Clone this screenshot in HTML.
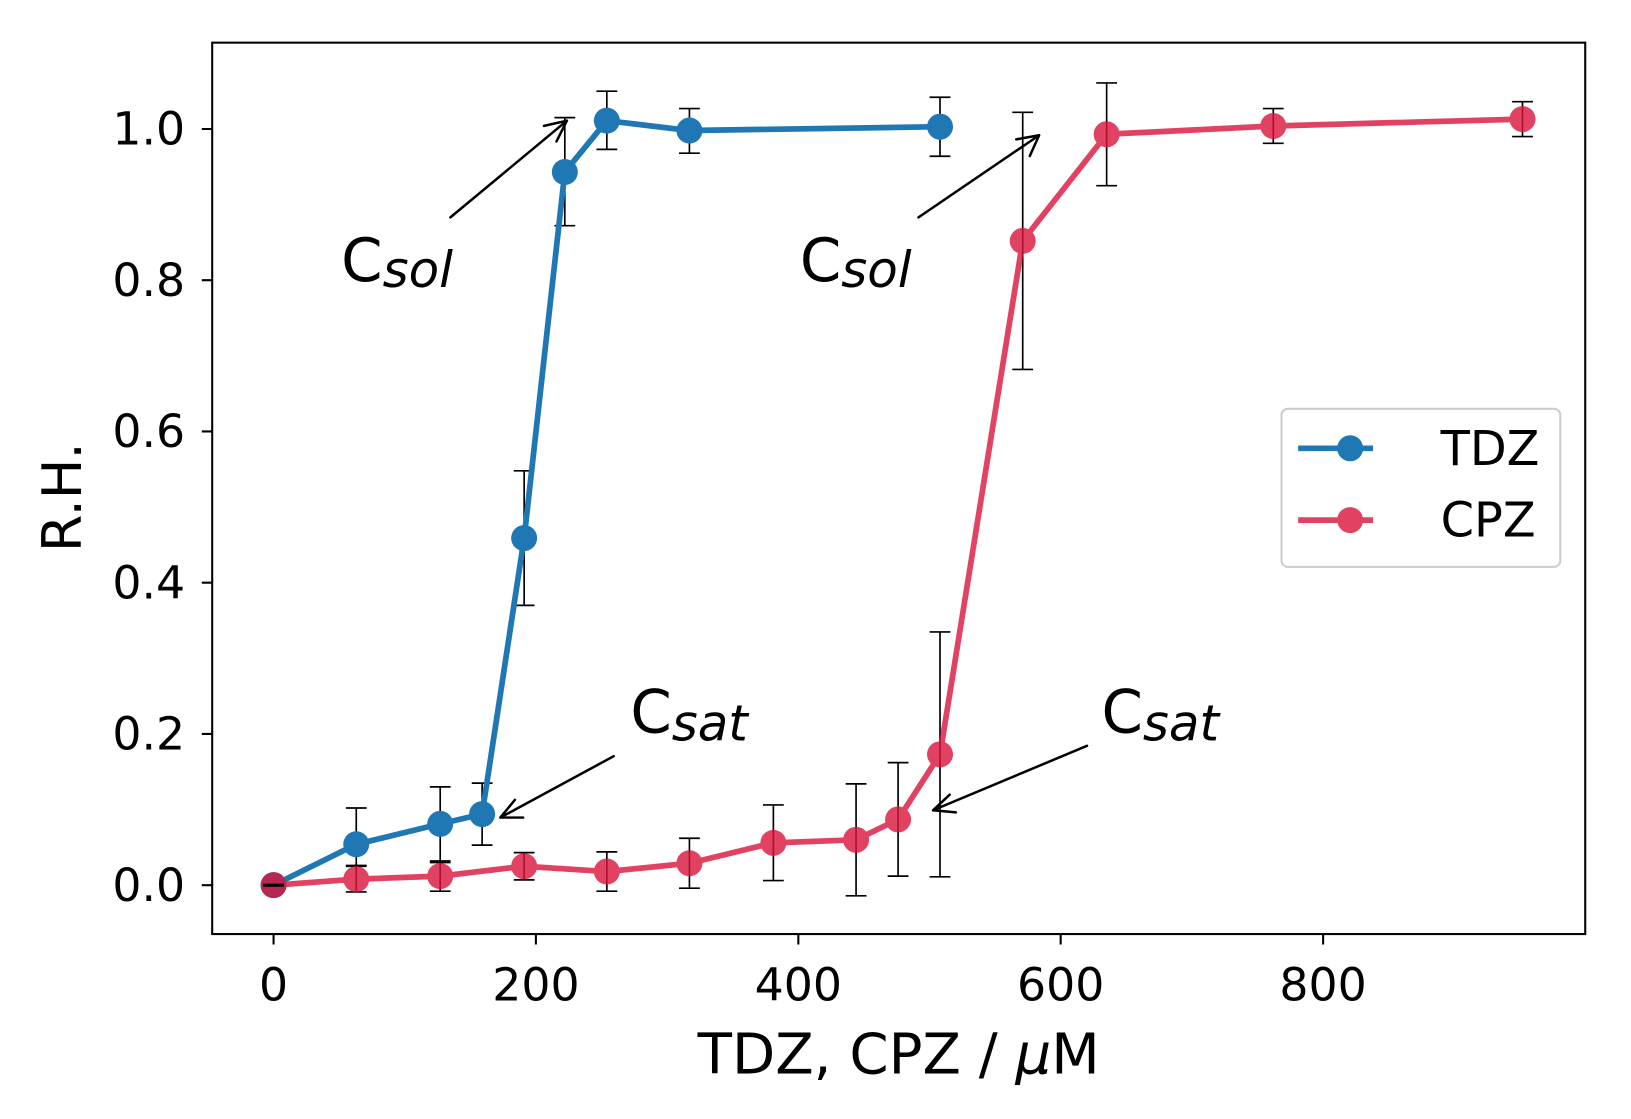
<!DOCTYPE html>
<html><head><meta charset="utf-8"><style>html,body{margin:0;padding:0;background:#fff}svg{display:block}</style></head>
<body>
<svg width="1631" height="1119" viewBox="0 0 1568 1075.8" preserveAspectRatio="none" xmlns="http://www.w3.org/2000/svg" font-family="'DejaVu Sans','Liberation Sans',sans-serif">
<rect x="0" y="0" width="1568" height="1076" fill="#fff"/>
<g stroke="#000" stroke-width="1.6" fill="none">
<path d="M342.5 776.8V832M332.5 776.8h20M332.5 832h20"/>
<path d="M423.2 756.5V829.2M413.2 756.5h20M413.2 829.2h20"/>
<path d="M463.5 752.9V812.5M453.5 752.9h20M453.5 812.5h20"/>
<path d="M503.9 452.6V582M493.9 452.6h20M493.9 582h20"/>
<path d="M543 113.1V217M533 113.1h20M533 217h20"/>
<path d="M583.4 87.7V143.6M573.4 87.7h20M573.4 143.6h20"/>
<path d="M662.8 104.4V147.3M652.8 104.4h20M652.8 147.3h20"/>
<path d="M903.7 93.5V150.2M893.7 93.5h20M893.7 150.2h20"/>
</g>
<polyline fill="none" stroke="#1f77b4" stroke-width="5.5" stroke-linejoin="round" points="263,851 342.5,811.7 423.2,792.1 463.5,782.7 503.9,517.3 543,165.4 583.4,116 662.8,125.5 903.7,121.8"/>
<g fill="#1f77b4">
<circle cx="263" cy="851" r="12.5"/><circle cx="342.5" cy="811.7" r="12.5"/><circle cx="423.2" cy="792.1" r="12.5"/><circle cx="463.5" cy="782.7" r="12.5"/><circle cx="503.9" cy="517.3" r="12.5"/><circle cx="543" cy="165.4" r="12.5"/><circle cx="583.4" cy="116" r="12.5"/><circle cx="662.8" cy="125.5" r="12.5"/><circle cx="903.7" cy="121.8" r="12.5"/>
</g>
<g stroke="#000" stroke-width="1.6" fill="none">
<path d="M342.5 832.8V857.5M332.5 832.8h20M332.5 857.5h20"/>
<path d="M423.2 827.7V856.8M413.2 827.7h20M413.2 856.8h20"/>
<path d="M503.9 819.7V845.9M493.9 819.7h20M493.9 845.9h20"/>
<path d="M583.4 819V856.8M573.4 819h20M573.4 856.8h20"/>
<path d="M662.8 805.9V853.9M652.8 805.9h20M652.8 853.9h20"/>
<path d="M743.5 773.9V846.6M733.5 773.9h20M733.5 846.6h20"/>
<path d="M823 753.6V861.2M813 753.6h20M813 861.2h20"/>
<path d="M863.4 733.2V842.3M853.4 733.2h20M853.4 842.3h20"/>
<path d="M903.7 607.5V843M893.7 607.5h20M893.7 843h20"/>
<path d="M983.2 108V355.2M973.2 108h20M973.2 355.2h20"/>
<path d="M1063.9 79.7V178.5M1053.9 79.7h20M1053.9 178.5h20"/>
<path d="M1224.1 104.4V137.8M1214.1 104.4h20M1214.1 137.8h20"/>
<path d="M1463.7 97.8V131.3M1453.7 97.8h20M1453.7 131.3h20"/>
</g>
<g opacity="0.8">
<polyline fill="none" stroke="#dc143c" stroke-width="5.5" stroke-linejoin="round" points="263,851 342.5,845.2 423.2,842.3 503.9,832.8 583.4,837.9 662.8,829.9 743.5,810.3 823,807.4 863.4,787.8 903.7,725.2 983.2,231.6 1063.9,129.1 1224.1,121.1 1463.7,114.5"/>
<g fill="#dc143c">
<circle cx="263" cy="851" r="12.5"/><circle cx="342.5" cy="845.2" r="12.5"/><circle cx="423.2" cy="842.3" r="12.5"/><circle cx="503.9" cy="832.8" r="12.5"/><circle cx="583.4" cy="837.9" r="12.5"/><circle cx="662.8" cy="829.9" r="12.5"/><circle cx="743.5" cy="810.3" r="12.5"/><circle cx="823" cy="807.4" r="12.5"/><circle cx="863.4" cy="787.8" r="12.5"/><circle cx="903.7" cy="725.2" r="12.5"/><circle cx="983.2" cy="231.6" r="12.5"/><circle cx="1063.9" cy="129.1" r="12.5"/><circle cx="1224.1" cy="121.1" r="12.5"/><circle cx="1463.7" cy="114.5" r="12.5"/>
</g></g>
<path d="M253 851h20" stroke="#000" stroke-width="3"/>
<rect x="204" y="41" width="1320" height="857" fill="none" stroke="#000" stroke-width="2"/>
<g stroke="#000" stroke-width="2">
<path d="M263 898v10M515.2 898v10M767.5 898v10M1019.7 898v10M1272 898v10"/>
<path d="M204 851h-10M204 705.6h-10M204 560.2h-10M204 414.8h-10M204 269.4h-10M204 124h-10"/>
</g>
<g font-size="44" fill="#000" text-anchor="middle">
<text x="263" y="962">0</text><text x="515.2" y="962">200</text><text x="767.5" y="962">400</text><text x="1019.7" y="962">600</text><text x="1272" y="962">800</text>
</g>
<g font-size="44" fill="#000" text-anchor="end">
<text x="178" y="866">0.0</text><text x="178" y="720.6">0.2</text><text x="178" y="575.2">0.4</text><text x="178" y="429.8">0.6</text><text x="178" y="284.4">0.8</text><text x="178" y="139">1.0</text>
</g>
<text x="864" y="1032" font-size="54" text-anchor="middle">TDZ, CPZ / <tspan font-style="italic">μ</tspan>M</text>
<text transform="translate(78,478) rotate(-90)" font-size="52" text-anchor="middle">R.H.</text>
<g font-size="57" fill="#000">
<text x="328" y="270">C<tspan font-style="italic" font-size="48" dy="6">sol</tspan></text>
<text x="769" y="270">C<tspan font-style="italic" font-size="48" dy="6">sol</tspan></text>
<text x="606" y="704">C<tspan font-style="italic" font-size="48" dy="8">sat</tspan></text>
<text x="1059" y="704">C<tspan font-style="italic" font-size="48" dy="8">sat</tspan></text>
</g>
<g stroke="#000" stroke-width="2.4" fill="none" stroke-linecap="round">
<path d="M433 209L545 116M545 116l-22 5M545 116l-10 20"/>
<path d="M883 209L999 130M999 130l-22 4M999 130l-9 20"/>
<path d="M590 727L481 786M481 786l22 0M481 786l14-17"/>
<path d="M1045 717L897 779M897 779l22 2M897 779l16-15"/>
</g>
<rect x="1232" y="393" width="268" height="152" rx="6" fill="#fff" stroke="#ccc" stroke-width="2"/>
<path d="M1248 431h72" stroke="#1f77b4" stroke-width="5.5"/>
<circle cx="1298" cy="431" r="12.5" fill="#1f77b4"/>
<g opacity="0.8"><path d="M1248 500h72" stroke="#dc143c" stroke-width="5.5"/><circle cx="1298" cy="500" r="12.5" fill="#dc143c"/></g>
<text x="1385" y="447" font-size="46">TDZ</text>
<text x="1385" y="516" font-size="46">CPZ</text>
</svg>
</body></html>
